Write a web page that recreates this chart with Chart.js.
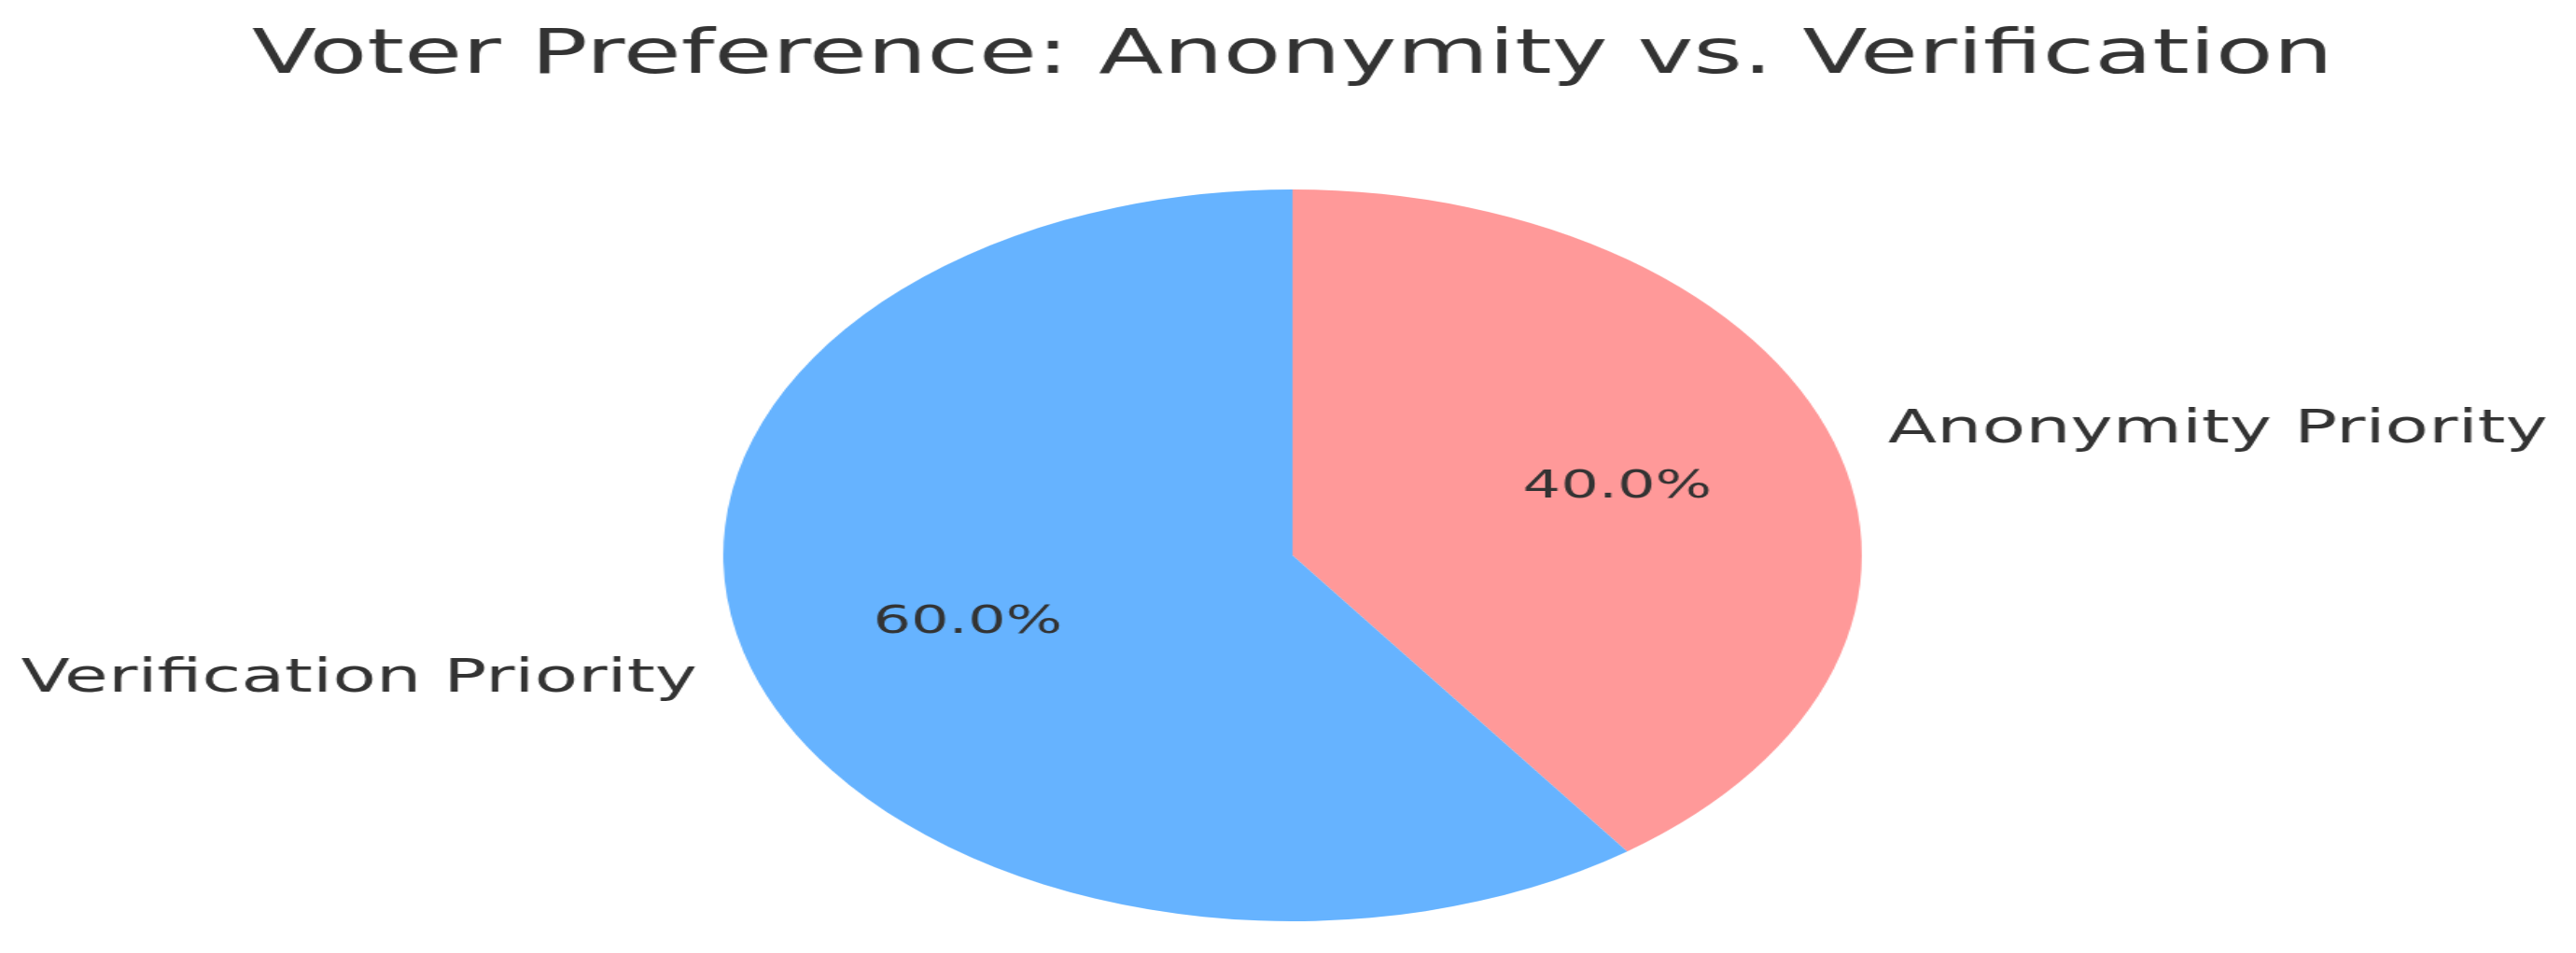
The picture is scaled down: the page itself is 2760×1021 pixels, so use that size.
<!DOCTYPE html>
<html>
<head>
<meta charset="utf-8">
<script src="https://cdn.jsdelivr.net/npm/chart.js@4.4.1/dist/chart.umd.min.js"></script>
<style>
   html, body { margin: 0; padding: 0; background: #fff; overflow: hidden; }
   /* the reference is a round pie stretched sideways, so draw narrow and stretch */
   #wrap { width: 1774px; height: 1021px; transform: scaleX(1.556); transform-origin: 0 0; }
</style>
</head>
<body>
<div id="wrap"><canvas id="pie" width="1774" height="1021"></canvas></div>
<script>
// данные
const categories = ['Anonymity Priority', 'Verification Priority'];
const shares = [40, 60];
const sliceColors = ['#ff9999', '#66b3ff'];
const titleText = 'Voter Preference: Anonymity vs. Verification';

const textColor = '#333333';
const fontFamily = "'DejaVu Sans', sans-serif";

// подписи снаружи и проценты внутри, как у matplotlib
const sliceLabels = {
   id: 'sliceLabels',
   afterDatasetsDraw(chart) {
      const ctx = chart.ctx;
      const meta = chart.getDatasetMeta(0);
      const total = shares.reduce((a, b) => a + b, 0);
      ctx.save();
      ctx.fillStyle = textColor;
      ctx.textBaseline = 'middle';
      meta.data.forEach((arc, i) => {
         const { x, y, startAngle, endAngle, outerRadius } = arc.getProps(
            ['x', 'y', 'startAngle', 'endAngle', 'outerRadius'], true);
         const mid = (startAngle + endAngle) / 2;
         const cos = Math.cos(mid);
         const sin = Math.sin(mid);

         // label at 1.1 r
         ctx.font = '49px ' + fontFamily;
         ctx.textAlign = cos >= 0 ? 'left' : 'right';
         ctx.fillText(categories[i], x + cos * outerRadius * 1.1, y + sin * outerRadius * 1.1);

         // percent at 0.6 r
         ctx.font = '41px ' + fontFamily;
         ctx.textAlign = 'center';
         const pct = (shares[i] / total * 100).toFixed(1) + '%';
         ctx.fillText(pct, x + cos * outerRadius * 0.6, y + sin * outerRadius * 0.6);
      });
      ctx.restore();
   }
};

const chart = new Chart(document.getElementById('pie'), {
   type: 'pie',
   data: {
      labels: categories,
      datasets: [{
         data: shares,
         backgroundColor: sliceColors,
         borderWidth: 0,
         hoverOffset: 0,
         offset: 0,
      }],
   },
   options: {
      responsive: false,
      devicePixelRatio: 1,
      animation: false,
      layout: {
         // pie centre at x=890 of the unstretched canvas
         padding: { top: 0, left: 6, right: 0, bottom: 34 },
      },
      plugins: {
         legend: { display: false },
         tooltip: { enabled: false },
         title: {
            display: true,
            text: titleText,
            color: textColor,
            font: { size: 65, family: fontFamily, weight: 'normal', lineHeight: 1.2 },
            padding: { top: 22, bottom: 103 },
         },
      },
   },
   plugins: [sliceLabels],
});
</script>
</body>
</html>
